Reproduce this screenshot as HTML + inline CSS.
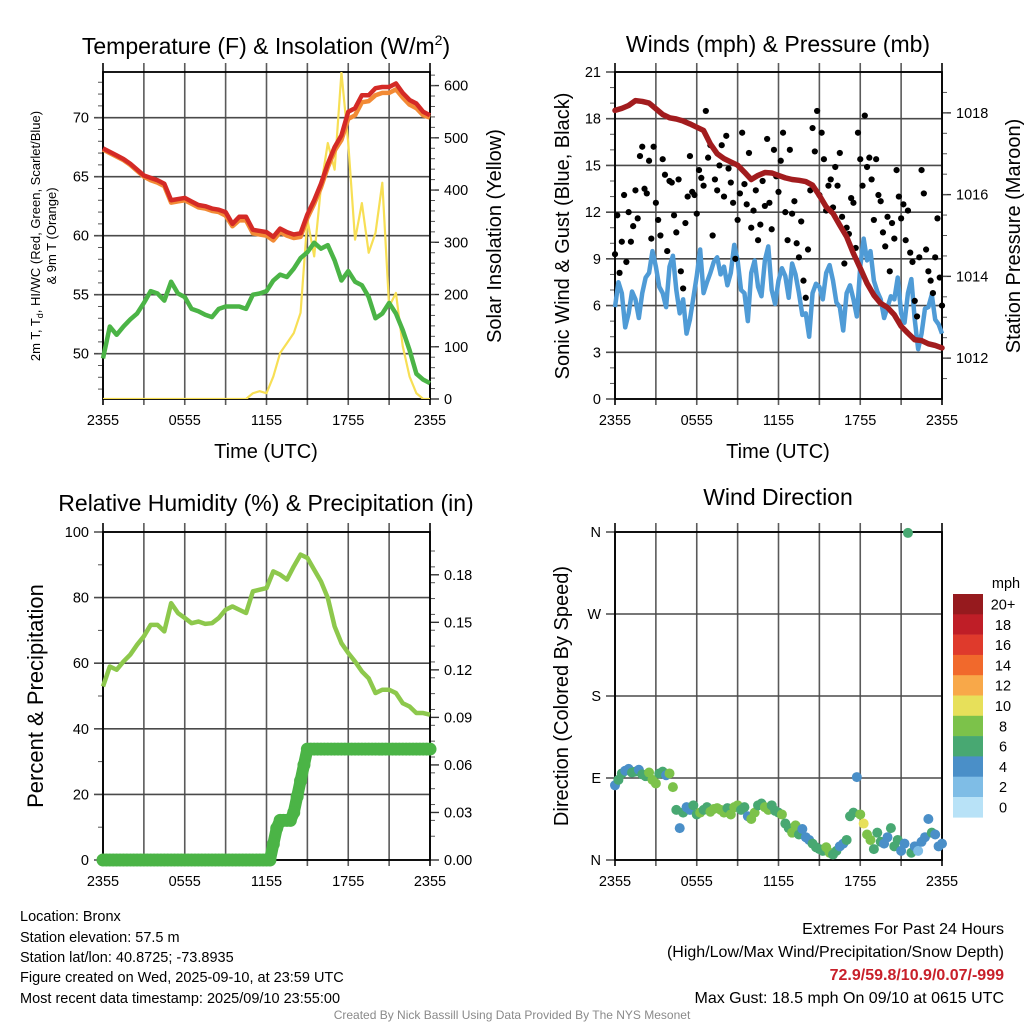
<!DOCTYPE html>
<html><head><meta charset="utf-8"><title>Mesonet Bronx</title>
<style>
html,body{margin:0;padding:0;background:#fff;}
svg{display:block;font-family:"Liberation Sans",Arial,sans-serif;}
</style></head>
<body>
<svg id="chart" xmlns="http://www.w3.org/2000/svg" width="1024" height="1024" viewBox="0 0 1024 1024">
<rect x="0" y="0" width="1024" height="1024" fill="#fff"/>
<text x="266" y="54" text-anchor="middle" font-size="23">Temperature (F) &amp; Insolation (W/m<tspan font-size="14" dy="-9">2</tspan><tspan dy="9">)</tspan></text>
<text x="778" y="52" text-anchor="middle" font-size="23">Winds (mph) &amp; Pressure (mb)</text>
<text x="266" y="511" text-anchor="middle" font-size="23">Relative Humidity (%) &amp; Precipitation (in)</text>
<text x="778" y="505" text-anchor="middle" font-size="23">Wind Direction</text>
<text transform="translate(40,236) rotate(-90)" text-anchor="middle" font-size="13">2m T, T<tspan font-size="9" dy="3">d</tspan><tspan dy="-3">, HI/WC (Red, Green, Scarlet/Blue)</tspan></text>
<text transform="translate(56,236) rotate(-90)" text-anchor="middle" font-size="13">&amp; 9m T (Orange)</text>
<text transform="translate(501,236) rotate(-90)" text-anchor="middle" font-size="20">Solar Insolation (Yellow)</text>
<text transform="translate(569,236) rotate(-90)" text-anchor="middle" font-size="20">Sonic Wind &amp; Gust (Blue, Black)</text>
<text transform="translate(1020,236) rotate(-90)" text-anchor="middle" font-size="20">Station Pressure (Maroon)</text>
<text transform="translate(43,696) rotate(-90)" text-anchor="middle" font-size="22">Percent &amp; Precipitation</text>
<text transform="translate(568,696) rotate(-90)" text-anchor="middle" font-size="20">Direction (Colored By Speed)</text>
<text x="266" y="458" text-anchor="middle" font-size="20">Time (UTC)</text>
<text x="778" y="458" text-anchor="middle" font-size="20">Time (UTC)</text>
<g font-size="14.5">
<text x="20" y="921">Location: Bronx</text>
<text x="20" y="942">Station elevation: 57.5 m</text>
<text x="20" y="962">Station lat/lon: 40.8725; -73.8935</text>
<text x="20" y="982">Figure created on Wed, 2025-09-10, at 23:59 UTC</text>
<text x="20" y="1003">Most recent data timestamp: 2025/09/10 23:55:00</text>
</g>
<g font-size="16" text-anchor="end">
<text x="1004" y="934">Extremes For Past 24 Hours</text>
<text x="1004" y="957">(High/Low/Max Wind/Precipitation/Snow Depth)</text>
<text x="1004" y="980" fill="#c8202a" font-weight="bold">72.9/59.8/10.9/0.07/-999</text>
<text x="1004" y="1003">Max Gust: 18.5 mph On 09/10 at 0615 UTC</text>
</g>
<text x="512" y="1019" text-anchor="middle" font-size="12" fill="#8a8a8a">Created By Nick Bassill Using Data Provided By The NYS Mesonet</text>
</svg>
<script>
// ---- data (30-minute resolution, hours 0..24 from 2355 UTC) ----
const xTickLabels = ["2355","0555","1155","1755","2355"];
const tempTicks = [50,55,60,65,70];
const solarTicks = [0,100,200,300,400,500,600];
const windTicks = [0,3,6,9,12,15,18,21];
const pressTicks = [1012,1014,1016,1018];
const rhTicks = [0,20,40,60,80,100];
const precipTicks = [0.00,0.03,0.06,0.09,0.12,0.15,0.18];
const dirTicks = ["N","E","S","W","N"];
const speedBinLabels = ["20+","18","16","14","12","10","8","6","4","2","0"];
const speedBinColors = ["#961a1e","#bf1e27","#df3a2c","#f1692c","#f8a849","#e7e05a","#7cc24a","#48a872","#4a8fc8","#7fbde6","#b8e2f7"];

const temp2m = [67.4,67.1,66.8,66.5,66.1,65.6,65.1,64.9,64.7,64.4,63.0,63.1,63.2,62.9,62.6,62.5,62.3,62.2,62.0,61.0,61.6,61.6,60.5,60.4,60.3,59.9,60.6,60.3,60.1,60.2,61.8,63.0,64.4,66.1,67.5,68.5,70.5,70.8,71.9,71.9,72.5,72.6,72.6,72.9,72.1,71.5,71.2,70.5,70.2];
const temp9m = [67.3,67.0,66.7,66.4,66.0,65.5,65.0,64.7,64.5,64.2,62.8,62.9,63.0,62.7,62.4,62.3,62.1,62.0,61.7,60.8,61.3,61.3,60.2,60.1,60.0,59.6,60.3,60.0,59.8,59.9,61.5,62.7,64.1,65.8,67.2,68.1,69.9,70.2,71.3,71.4,71.9,72.1,72.1,72.4,71.7,71.1,70.8,70.2,70.0];
const dewpoint = [49.6,52.3,51.6,52.3,52.9,53.4,54.3,55.3,55.1,54.5,56.1,55.1,54.8,53.8,53.6,53.3,53.1,53.8,54.0,54.0,54.0,53.8,55.0,55.1,55.3,56.2,56.7,56.5,57.2,58.1,58.6,59.4,58.9,59.2,57.9,56.2,57.0,56.1,55.8,54.8,53.0,53.4,54.3,53.4,52.0,50.3,48.3,47.8,47.5];
const solar = [0,0,0,0,0,0,0,0,0,0,0,0,0,0,0,0,0,0,0,0,0,0,11,15,11,43,88,107,126,165,344,273,407,490,439,625,490,305,375,280,318,414,177,203,101,43,11,0,0];
const pressure = [1018.06,1018.11,1018.18,1018.30,1018.28,1018.24,1018.10,1017.96,1017.88,1017.85,1017.80,1017.73,1017.65,1017.57,1017.24,1017.00,1016.88,1016.80,1016.72,1016.55,1016.37,1016.47,1016.54,1016.53,1016.47,1016.41,1016.37,1016.35,1016.32,1016.23,1015.98,1015.70,1015.54,1015.25,1014.97,1014.56,1014.20,1013.83,1013.54,1013.34,1013.24,1013.06,1012.78,1012.61,1012.45,1012.43,1012.35,1012.31,1012.25];
const relHumidity = [52.9,59.0,58.0,60.5,62.6,65.6,68.2,71.7,71.7,69.7,78.3,75.3,73.8,72.2,72.7,72.0,72.2,73.8,76.3,77.3,76.3,75.3,81.9,82.4,82.9,88.0,87.0,85.5,89.5,93.1,92.1,88.5,84.9,79.9,71.2,66.1,63.1,60.5,57.5,55.4,50.9,51.9,51.9,50.9,47.8,46.8,44.8,44.8,44.3];
// 15-minute resolution
const windSpeed = [5.9,7.5,6.8,4.6,5.5,6.9,6.4,5.2,6.8,7.8,8.1,9.5,8.5,7.2,6.8,5.9,8.5,9.2,7.0,5.5,6.4,4.2,5.1,6.5,7.9,9.6,6.8,7.5,8.1,8.8,9.1,8.0,8.5,7.3,8.1,9.9,8.9,7.0,6.8,5.0,8.1,8.9,7.2,6.6,8.9,9.8,7.0,6.1,7.6,8.4,7.9,6.5,8.7,8.0,6.8,5.4,5.5,4.0,6.8,7.4,7.2,6.4,8.1,8.6,7.6,6.2,5.9,4.4,6.8,7.3,6.4,5.3,8.5,10.3,8.9,9.5,7.6,6.9,6.4,5.2,5.9,6.6,6.4,7.8,5.5,4.9,6.8,7.7,5.1,3.2,4.2,5.8,5.9,6.7,5.1,4.8,4.2];
const windDir = [82,88,95,98,100,96,97,99,94,92,96,88,84,95,97,93,95,80,55,35,52,58,55,60,50,52,55,58,53,56,57,55,52,57,50,58,60,55,58,48,45,52,60,62,58,55,60,54,52,50,40,35,30,38,28,34,25,22,18,14,12,10,14,8,6,10,15,18,22,48,52,91,50,40,28,22,12,30,20,18,25,35,15,22,10,18,359,8,15,10,20,25,45,30,28,15,18];
const precip = [0,0,0,0,0,0,0,0,0,0,0,0,0,0,0,0,0,0,0,0,0,0,0,0,0,0,0,0,0,0,0,0,0,0,0,0,0,0,0,0,0,0,0,0,0,0,0,0,0,0,0.01,0.02,0.025,0.025,0.025,0.025,0.03,0.04,0.05,0.06,0.07,0.07,0.07,0.07,0.07,0.07,0.07,0.07,0.07,0.07,0.07,0.07,0.07,0.07,0.07,0.07,0.07,0.07,0.07,0.07,0.07,0.07,0.07,0.07,0.07,0.07,0.07,0.07,0.07,0.07,0.07,0.07,0.07,0.07,0.07,0.07,0.07];
// 10-minute resolution
const gusts = [9.3,11.8,8.1,10.1,13.1,8.8, 12.0,10.1,11.1,13.4,11.6,15.6, 16.2,13.5,13.2,15.3,10.3,16.2, 12.6,11.5,10.5,15.4,14.4,9.5, 14.0,13.9,11.8,10.7,14.1,8.2, 7.1,11.3,13.0,15.6,13.3,13.1, 11.9,14.7,14.2,13.7,18.5,15.5, 16.3,10.5,14.1,13.4,15.0,16.3, 13.0,16.9,14.8,13.9,12.6,9.0, 11.5,13.2,17.1,13.8,12.5,15.8, 11.0,12.1,13.4,10.2,11.2,14.0, 12.4,16.7,12.6,10.9,16.0,14.3, 13.3,15.3,17.1,12.0,10.2,16.0, 11.9,12.7,10.0,9.1,11.4,7.6, 6.5,9.6,13.4,17.4,15.9,18.5, 13.1,17.1,15.4,12.1,13.7,14.1, 12.3,14.9,13.7,15.8,11.7,8.7, 11.0,10.6,12.9,12.6,9.7,17.1, 15.4,13.7,18.2,14.9,15.5,14.1, 11.5,15.4,13.1,12.7,10.7,9.8, 11.7,8.2,11.3,10.3,14.7,13.0, 11.6,12.5,10.2,12.1,9.4,8.8, 6.3,5.3,9.1,14.7,13.2,9.6, 8.2,7.6,6.8,9.1,11.6,7.8, 6.0];

const NS = "http://www.w3.org/2000/svg";
const svg = document.getElementById("chart");
function mk(tag, attrs, parent){
  const e = document.createElementNS(NS, tag);
  for (const k in attrs) e.setAttribute(k, attrs[k]);
  (parent || svg).appendChild(e);
  return e;
}
function lin(d0,d1,r0,r1){ return v => r0 + (v-d0)/(d1-d0)*(r1-r0); }

const panels = {
  temp:  {L:103,R:430,T:72,B:399},
  wind:  {L:615,R:942,T:72,B:399},
  rh:    {L:103,R:430,T:532,B:860},
  dir:   {L:615,R:942,T:532,B:860}
};
function xOf(p, hours){ return lin(0,24,p.L,p.R)(hours); }

function drawFrame(p, key, yScale, ticks, labels, minorVals, rScale, rTicks, rLabels, rMinor){
  const g = mk("g", {});
  
  
  for (let h=0; h<=24; h+=3){
    const x = xOf(p,h);
    const l = mk("line", {x1:x, x2:x, y1:p.T-9, y2:p.B+6, stroke:(h%24===0)?"#000":"#5a5a5a", "stroke-width":1.6}, g);
    
    
  }
  xTickLabels.forEach((lab,i)=>{
    const t = mk("text", {x:xOf(p,i*6), y:p.B+26, "text-anchor":"middle", "font-size":14.5}, g);
    t.textContent = lab;
    
    
  });
  ticks.forEach((v,i)=>{
    const y = yScale(v);
    const l = mk("line", {x1:p.L-9, x2:p.R, y1:y, y2:y, stroke:"#4a4a4a", "stroke-width":1.6}, g);
    
    
    const t = mk("text", {x:p.L-14, y:y+5, "text-anchor":"end", "font-size":14.5}, g);
    t.textContent = labels[i];
    
    
  });
  minorVals.forEach(v=>{
    const y = yScale(v);
    const l = mk("line", {x1:p.L-5, x2:p.L, y1:y, y2:y, stroke:"#555", "stroke-width":1}, g);
    
    
  });
  if (rScale){
    rTicks.forEach((v,i)=>{
      const y = rScale(v);
      const l = mk("line", {x1:p.R, x2:p.R+9, y1:y, y2:y, stroke:"#333", "stroke-width":1.4}, g);
      
      
      const t = mk("text", {x:p.R+14, y:y+5, "font-size":14.5}, g);
      t.textContent = rLabels[i];
      
      
    });
    rMinor.forEach(v=>{
      const y = rScale(v);
      const l = mk("line", {x1:p.R, x2:p.R+5, y1:y, y2:y, stroke:"#555", "stroke-width":1}, g);
      
      
    });
  }
  const fr = mk("rect", {x:p.L, y:p.T, width:p.R-p.L, height:p.B-p.T, fill:"none", stroke:"#000", "stroke-width":1.8}, g);
  
  
  return g;
}
function range(a,b,s){ const r=[]; for(let v=a; v<=b+1e-9; v+=s) r.push(+v.toFixed(4)); return r; }
function linePath(p, arr, yScale, stepH){
  return arr.map((v,i)=>(i?"L":"M")+xOf(p,i*stepH).toFixed(2)+","+yScale(v).toFixed(2)).join("");
}

// ---- Panel 1: temperature ----
const p1 = panels.temp;
const yT = lin(46.16,73.87,p1.B,p1.T);
const yS = lin(0,626,p1.B,p1.T);
drawFrame(p1,"temperature",yT,tempTicks,tempTicks.map(String),range(47,73,1),yS,solarTicks,solarTicks.map(String),range(20,620,20));
const clip1 = mk("clipPath",{id:"c1"}); mk("rect",{x:p1.L,y:p1.T,width:p1.R-p1.L,height:p1.B-p1.T},clip1);
let e;
e = mk("path",{d:linePath(p1,solar,yS,0.5),fill:"none",stroke:"#f7df55","stroke-width":2.2,"stroke-linejoin":"round","clip-path":"url(#c1)"});


e = mk("path",{d:linePath(p1,dewpoint,yT,0.5),fill:"none",stroke:"#4bb446","stroke-width":4.5,"stroke-linejoin":"round"});


e = mk("path",{d:linePath(p1,temp9m,yT,0.5),fill:"none",stroke:"#f28a35","stroke-width":4.5,"stroke-linejoin":"round"});


e = mk("path",{d:linePath(p1,temp2m,yT,0.5),fill:"none",stroke:"#d42a26","stroke-width":4.5,"stroke-linejoin":"round"});



// ---- Panel 2: winds & pressure ----
const p2 = panels.wind;
const yW = lin(0,21,p2.B,p2.T);
const yP = lin(1011,1019,p2.B,p2.T);
drawFrame(p2,"winds",yW,windTicks,windTicks.map(String),range(1,20,1),yP,pressTicks,pressTicks.map(String),range(1011.5,1018.5,0.5));
e = mk("path",{d:linePath(p2,windSpeed,yW,0.25),fill:"none",stroke:"#4f9bd6","stroke-width":4.5,"stroke-linejoin":"round"});


const gG = mk("g",{fill:"#000"});


gusts.forEach((v,i)=>{
  const c = mk("circle",{cx:xOf(p2,i/6),cy:yW(v),r:3.1},gG);
  
  
});
e = mk("path",{d:linePath(p2,pressure,yP,0.5),fill:"none",stroke:"#a21c1e","stroke-width":5.5,"stroke-linejoin":"round","stroke-linecap":"round"});



// ---- Panel 3: RH & precip ----
const p3 = panels.rh;
const yR = lin(0,100,p3.B,p3.T);
const yPr = lin(0,0.207,p3.B,p3.T);
drawFrame(p3,"humidity",yR,rhTicks,rhTicks.map(String),range(10,90,20),yPr,precipTicks,precipTicks.map(v=>v.toFixed(2)),range(0.015,0.195,0.01));
e = mk("path",{d:linePath(p3,precip,yPr,0.25),fill:"none",stroke:"#4bb446","stroke-width":12,"stroke-linejoin":"round","stroke-linecap":"round"});


const gP = mk("g",{fill:"#4bb446"});


precip.forEach((v,i)=>{
  const c = mk("circle",{cx:xOf(p3,i*0.25),cy:yPr(v),r:6.5},gP);
  
  
});
e = mk("path",{d:linePath(p3,relHumidity,yR,0.5),fill:"none",stroke:"#8dc84c","stroke-width":4.5,"stroke-linejoin":"round"});



// ---- Panel 4: wind direction ----
const p4 = panels.dir;
const yD = lin(0,360,p4.B,p4.T);
drawFrame(p4,"direction",yD,[0,90,180,270,360],dirTicks,[],null);
function speedColor(s){ let b = Math.floor(s/2); if (b>10) b=10; return speedBinColors[10-b]; }
const gD = mk("g",{});


windDir.forEach((v,i)=>{
  const c = mk("circle",{cx:xOf(p4,i*0.25),cy:yD(v),r:5,fill:speedColor(windSpeed[i])},gD);
  
  
});
const gC = mk("g",{});


const cbTitle = mk("text",{x:1006,y:588,"text-anchor":"middle","font-size":14.5},gC);
cbTitle.textContent = "mph";


speedBinLabels.forEach((lab,i)=>{
  const y = 594 + i*20.3;
  const r = mk("rect",{x:953,y:y,width:30,height:20.6,fill:speedBinColors[i]},gC);
  
  
  const t = mk("text",{x:1003,y:y+15.5,"text-anchor":"middle","font-size":14.5},gC);
  t.textContent = lab;
  
  
});
</script>
</body></html>
